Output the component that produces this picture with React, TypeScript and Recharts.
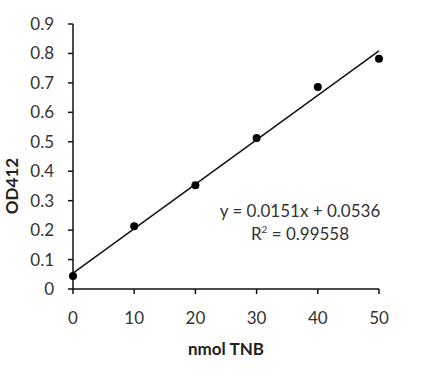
import React from 'react';
import {
  ComposedChart,
  Scatter,
  Line,
  XAxis,
  YAxis,
  Label,
} from 'recharts';

// nmol TNB standards vs OD412 readings
const nmolTNB = [0, 10, 20, 30, 40, 50];
const od412 = [0.044, 0.213, 0.352, 0.513, 0.686, 0.782];

// linear fit endpoints (y = 0.0151x + 0.0536)
const fitX = [0, 50];
const fitY = [0.0536, 0.8086];

const xTicks = [0, 10, 20, 30, 40, 50];
const yTicks = [0, 0.1, 0.2, 0.3, 0.4, 0.5, 0.6, 0.7, 0.8, 0.9];

const equationText = 'y = 0.0151x + 0.0536';
const r2Value = '0.99558';

const FONT = 'Lato, "Open Sans", sans-serif';
const TEXT = '#333';

const points = nmolTNB.map((x, i) => ({ x, y: od412[i] }));
const fitLine = fitX.map((x, i) => ({ x, fit: fitY[i] }));

const yFormat = (v: number) => (v === 0 ? '0' : v.toFixed(1));

export default function App() {
  return (
    <div style={{ position: 'fixed', top: 0, left: 0, width: 425, height: 374, background: '#fff', fontFamily: FONT }}>
      <ComposedChart
        width={425}
        height={374}
        margin={{ top: 24, right: 46, bottom: 15, left: 0 }}
      >
        <XAxis
          type="number"
          dataKey="x"
          domain={[0, 50]}
          ticks={xTicks}
          height={70}
          stroke="#111"
          strokeWidth={1.5}
          tickSize={5}
          tickMargin={18}
          tick={{ fill: TEXT, fontSize: 17, fontFamily: FONT }}
        >
          <Label
            value="nmol TNB"
            position="insideBottom"
            offset={4}
            style={{ fill: '#222', fontSize: 17, fontWeight: 700, fontFamily: FONT }}
          />
        </XAxis>
        <YAxis
          type="number"
          domain={[0, 0.9]}
          ticks={yTicks}
          width={73}
          stroke="#111"
          strokeWidth={1.5}
          tickSize={5}
          tickMargin={14}
          tickFormatter={yFormat}
          tick={{ fill: TEXT, fontSize: 17, fontFamily: FONT }}
        >
          <Label
            content={() => (
              <text
                x={11}
                y={186}
                transform="rotate(-90 11 186)"
                textAnchor="middle"
                dominantBaseline="central"
                style={{ fill: '#222', fontSize: 17, fontWeight: 700, fontFamily: FONT }}
              >
                OD412
              </text>
            )}
          />
        </YAxis>
        <Line
          data={fitLine}
          dataKey="fit"
          type="linear"
          stroke="#111"
          strokeWidth={1.5}
          dot={false}
          activeDot={false}
          isAnimationActive={false}
        />
        <Scatter
          data={points}
          dataKey="y"
          fill="#000"
          shape={(p: any) => <circle cx={p.cx} cy={p.cy} r={4} fill="#000" />}
          isAnimationActive={false}
        />
      </ComposedChart>
      <div
        style={{
          position: 'absolute',
          left: 200,
          top: 199,
          width: 200,
          textAlign: 'center',
          color: TEXT,
          fontSize: 17,
          lineHeight: '23px',
          fontFamily: FONT,
        }}
      >
        <div>{equationText}</div>
        <div>
          R<sup style={{ fontSize: 10, verticalAlign: 'super', lineHeight: 0 }}>2</sup> = {r2Value}
        </div>
      </div>
    </div>
  );
}
